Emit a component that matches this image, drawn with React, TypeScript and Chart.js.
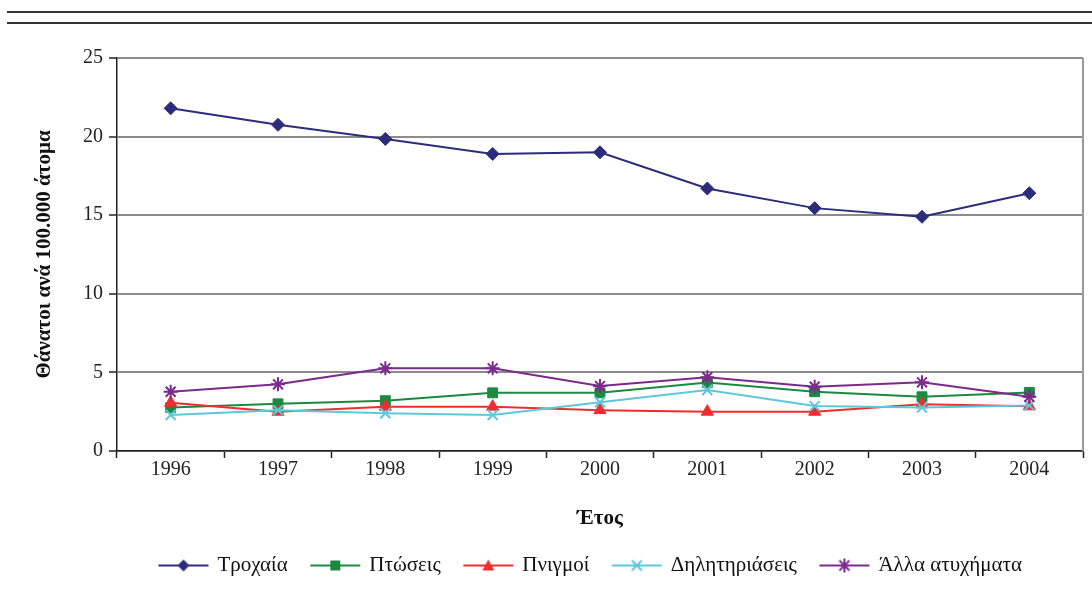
import React, { useEffect, useRef } from 'react';
import { Chart, registerables } from 'chart.js';

Chart.register(...registerables);

const years = ['1996', '1997', '1998', '1999', '2000', '2001', '2002', '2003', '2004'];
const yTicks = [0, 5, 10, 15, 20, 25];

const roadDeaths = [21.8, 20.75, 19.85, 18.9, 19.0, 16.7, 15.45, 14.9, 16.4];
const falls = [2.76, 3.0, 3.2, 3.7, 3.7, 4.35, 3.77, 3.45, 3.72];
const drownings = [3.07, 2.5, 2.82, 2.82, 2.6, 2.5, 2.5, 2.97, 2.84];
const poisonings = [2.29, 2.6, 2.4, 2.29, 3.1, 3.88, 2.86, 2.76, 2.9];
const otherAccidents = [3.77, 4.24, 5.26, 5.26, 4.13, 4.69, 4.09, 4.37, 3.45];

const seriesLabels = ['Τροχαία', 'Πτώσεις', 'Πνιγμοί', 'Δηλητηριάσεις', 'Άλλα ατυχήματα'];
const seriesColors = ['#2d2b7b', '#1b8a40', '#ee2e2e', '#5fc7dc', '#7c2a8c'];
const seriesStyles = ['rectRot', 'rect', 'triangle', 'crossRot', 'star'];
const seriesRadius = [6.5, 7, 7, 7, 7];

const FONT = "'Liberation Serif', 'DejaVu Serif', serif";

function makeIcon(color: string, style: string): HTMLCanvasElement {
  const c = document.createElement('canvas');
  c.width = 52;
  c.height = 16;
  const g = c.getContext('2d')!;
  const cx = 26, cy = 8;
  g.strokeStyle = color;
  g.fillStyle = color;
  g.lineWidth = 2;
  g.beginPath();
  g.moveTo(1, cy);
  g.lineTo(51, cy);
  g.stroke();
  g.beginPath();
  if (style === 'rectRot') {
    g.moveTo(cx, cy - 6); g.lineTo(cx + 6, cy); g.lineTo(cx, cy + 6); g.lineTo(cx - 6, cy); g.closePath(); g.fill();
  } else if (style === 'rect') {
    g.rect(cx - 5, cy - 5, 10, 10); g.fill();
  } else if (style === 'triangle') {
    g.moveTo(cx, cy - 6); g.lineTo(cx + 6, cy + 5); g.lineTo(cx - 6, cy + 5); g.closePath(); g.fill();
  } else if (style === 'crossRot') {
    g.moveTo(cx - 5, cy - 5); g.lineTo(cx + 5, cy + 5); g.moveTo(cx + 5, cy - 5); g.lineTo(cx - 5, cy + 5); g.stroke();
  } else {
    g.moveTo(cx - 5, cy - 5); g.lineTo(cx + 5, cy + 5); g.moveTo(cx + 5, cy - 5); g.lineTo(cx - 5, cy + 5);
    g.moveTo(cx, cy - 7); g.lineTo(cx, cy + 7); g.stroke();
  }
  return c;
}

const plotBorder = {
  id: 'plotBorder',
  afterLayout(chart: any) {
    if (chart.legend) {
      chart.legend.left = 93;
      chart.legend.right = 1089;
    }
  },
  beforeDatasetsDraw(chart: any) {
    const { ctx, chartArea } = chart;
    ctx.save();
    ctx.strokeStyle = '#9a9a9a';
    ctx.lineWidth = 2;
    ctx.beginPath();
    ctx.moveTo(chartArea.right, chartArea.top);
    ctx.lineTo(chartArea.right, chartArea.bottom);
    ctx.stroke();
    ctx.restore();
  },
};

export default function App() {
  const ref = useRef<HTMLCanvasElement | null>(null);

  useEffect(() => {
    if (!ref.current) return;
    const allData = [roadDeaths, falls, drownings, poisonings, otherAccidents];
    const icons = seriesColors.map((c, i) => makeIcon(c, seriesStyles[i]));
    const chart = new Chart(ref.current, {
      type: 'line',
      data: {
        labels: years,
        datasets: allData.map((d, i) => ({
          label: seriesLabels[i],
          data: d,
          borderColor: seriesColors[i],
          backgroundColor: seriesColors[i],
          pointBackgroundColor: seriesColors[i],
          pointBorderColor: seriesColors[i],
          pointStyle: seriesStyles[i] as any,
          pointRadius: seriesRadius[i],
          pointBorderWidth: i >= 3 ? 2 : 1,
          borderWidth: 2,
          tension: 0,
          order: 4 - i,
        })),
      },
      options: {
        responsive: false,
        animation: false,
        layout: { padding: { left: 0, right: 3, top: 58, bottom: 18 } },
        plugins: {
          tooltip: { enabled: false },
          legend: {
            position: 'bottom',
            fullSize: false,
            labels: {
              usePointStyle: true,
              pointStyleWidth: 47,
              padding: 24,
              color: '#111',
              font: { family: FONT, size: 21 },
              generateLabels: (ch: any) =>
                ch.data.datasets.map((ds: any, i: number) => ({
                  text: ds.label,
                  pointStyle: icons[i],
                  fillStyle: seriesColors[i],
                  strokeStyle: seriesColors[i],
                  fontColor: '#111',
                  lineWidth: 0,
                  hidden: false,
                  datasetIndex: i,
                })),
            },
          },
        },
        scales: {
          x: {
            offset: true,
            afterFit: (s: any) => { s.height = 80; s.paddingLeft = 0; s.paddingRight = 0; },
            grid: { display: true, drawOnChartArea: false, drawTicks: true, tickLength: 7, offset: true, tickColor: '#222', tickWidth: 1.5 },
            border: { display: true, color: '#222', width: 1.5 },
            ticks: { color: '#222', font: { family: FONT, size: 20 }, padding: 0, maxRotation: 0 },
            title: { display: true, text: 'Έτος', color: '#111', font: { family: FONT, size: 21, weight: 'bold' }, padding: { top: 4, bottom: 0 } },
          },
          y: {
            min: 0,
            max: 25,
            afterFit: (s: any) => { s.width = 117; },
            afterBuildTicks: (s: any) => { s.ticks = yTicks.map((v) => ({ value: v })); },
            grid: { color: '#8c8c8c', lineWidth: 2, tickColor: '#222', tickLength: 8, tickWidth: 1.5 },
            border: { display: true, color: '#222', width: 1.5 },
            ticks: { color: '#222', font: { family: FONT, size: 20 }, padding: 6 },
            title: { display: true, text: 'Θάνατοι ανά 100.000 άτομα', color: '#111', font: { family: FONT, size: 21, weight: 'bold' }, padding: { top: 32, bottom: 0 } },
          },
        },
      },
      plugins: [plotBorder],
    });
    return () => chart.destroy();
  }, []);

  return (
    <div style={{ position: 'fixed', left: 0, top: 0, width: 1092, height: 604, background: '#fff', overflow: 'hidden' }}>
      <div style={{ position: 'absolute', left: 7, right: 0, top: 11, height: 2, background: '#333' }} />
      <div style={{ position: 'absolute', left: 7, right: 0, top: 22, height: 2, background: '#333' }} />
      <canvas ref={ref} width={1092} height={604} style={{ display: 'block' }} />
    </div>
  );
}
